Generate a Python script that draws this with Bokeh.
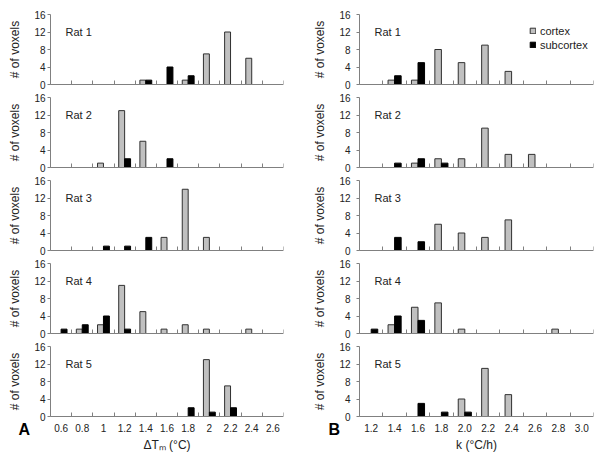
import numpy as np
from bokeh.plotting import figure
from bokeh.models import FixedTicker, Label, Range1d
from bokeh.layouts import row, column
from bokeh.embed import file_html
from bokeh.resources import INLINE

rats = ["Rat 1", "Rat 2", "Rat 3", "Rat 4", "Rat 5"]
dtm_bins = ["0.6", "0.8", "1", "1.2", "1.4", "1.6", "1.8", "2", "2.2", "2.4", "2.6"]
k_bins = ["1.2", "1.4", "1.6", "1.8", "2.0", "2.2", "2.4", "2.6", "2.8", "3.0"]
y_ticks = [0, 4, 8, 12, 16]

dtm_cortex = [
    [0, 0, 0, 0, 1, 0, 1, 7, 12, 6, 0],
    [0, 0, 1, 13, 6, 0, 0, 0, 0, 0, 0],
    [0, 0, 0, 0, 0, 3, 14, 3, 0, 0, 0],
    [0, 1, 2, 11, 5, 1, 2, 1, 0, 1, 0],
    [0, 0, 0, 0, 0, 0, 0, 13, 7, 0, 0],
]
dtm_subcortex = [
    [0, 0, 0, 0, 1, 4, 2, 0, 0, 0, 0],
    [0, 0, 0, 2, 0, 2, 0, 0, 0, 0, 0],
    [0, 0, 1, 1, 3, 0, 0, 0, 0, 0, 0],
    [1, 2, 4, 1, 0, 0, 0, 0, 0, 0, 0],
    [0, 0, 0, 0, 0, 0, 2, 1, 2, 0, 0],
]
k_cortex = [
    [0, 1, 1, 8, 5, 9, 3, 0, 0, 0],
    [0, 0, 1, 2, 2, 9, 3, 3, 0, 0],
    [0, 0, 0, 6, 4, 3, 7, 0, 0, 0],
    [0, 2, 6, 7, 1, 0, 0, 0, 1, 0],
    [0, 0, 0, 0, 4, 11, 5, 0, 0, 0],
]
k_subcortex = [
    [0, 2, 5, 0, 0, 0, 0, 0, 0, 0],
    [0, 1, 2, 1, 0, 0, 0, 0, 0, 0],
    [0, 3, 2, 0, 0, 0, 0, 0, 0, 0],
    [1, 4, 3, 0, 0, 0, 0, 0, 0, 0],
    [0, 0, 3, 1, 1, 0, 0, 0, 0, 0],
]

FONT = "Liberation Sans"
TXT = "#222222"
AX = "#808080"
GREY = "#c0c0c0"
BAR_W = 0.28
Y_MAX = 16
FRAME_H = 70


def panel(bins, cortex, sub, rat, idx, right, letter=None, xtitle=None, legend=False):
    n = len(bins)
    bottom = idx == 4
    top = idx == 0
    if right:
        w, bl, br = 302, 59, 9
    else:
        w, bl, br = 300, 50, 17
    bt = 14 if top else 6
    bb = 40 if bottom else 7
    h = bt + FRAME_H + bb
    # The plotting frame covers the left, top and bottom margins so that the
    # tick labels and panel letters are never clipped; the axes are pinned at
    # x=0 / y=0 and bounded to the data area.
    px_x = (w - bl - br) / n
    px_y = FRAME_H / Y_MAX
    xr = Range1d(-bl / px_x, n)
    yr = Range1d(-bb / px_y, Y_MAX + bt / px_y)
    p = figure(width=w, height=h, output_backend="svg", toolbar_location=None,
               x_range=xr, y_range=yr,
               min_border_left=0, min_border_right=br, min_border_top=0,
               min_border_bottom=0)
    p.outline_line_color = None
    p.grid.visible = False
    p.background_fill_color = "white"
    p.border_fill_color = "white"

    centers = [i + 0.5 for i in range(n)]
    xc = [c - BAR_W / 2 for c, v in zip(centers, cortex) if v > 0]
    yc = [v for v in cortex if v > 0]
    xs = [c + BAR_W / 2 for c, v in zip(centers, sub) if v > 0]
    ys = [v for v in sub if v > 0]
    kw_c = dict(legend_label="cortex") if legend else {}
    kw_s = dict(legend_label="subcortex") if legend else {}
    p.vbar(x=xc, top=yc, bottom=0, width=BAR_W, fill_color=GREY,
           line_color="#303030", line_width=1, **kw_c)
    p.vbar(x=xs, top=ys, bottom=0, width=BAR_W, fill_color="black",
           line_color="black", line_width=1, **kw_s)

    ya = p.yaxis[0]
    ya.fixed_location = 0
    ya.bounds = (0, Y_MAX)
    ya.ticker = FixedTicker(ticks=y_ticks, minor_ticks=[])
    ya.axis_line_color = AX
    ya.major_tick_line_color = AX
    ya.major_tick_out = 3
    ya.major_tick_in = 0
    ya.major_label_standoff = 6 if right else 2
    ya.major_label_text_font = FONT
    ya.major_label_text_font_size = "10px"
    ya.major_label_text_color = TXT
    ya.axis_label = "# of voxels"
    ya.axis_label_text_font = FONT
    ya.axis_label_text_font_size = "12px"
    ya.axis_label_text_font_style = "normal"
    ya.axis_label_text_color = TXT
    ya.axis_label_standoff = 9

    xa = p.xaxis[0]
    xa.fixed_location = 0
    xa.bounds = (0, n)
    xa.ticker = FixedTicker(ticks=centers if bottom else [], minor_ticks=list(range(n + 1)))
    xa.axis_line_color = AX
    xa.major_tick_in = 0
    xa.major_tick_out = 0
    xa.minor_tick_in = 4
    xa.minor_tick_out = 0
    xa.minor_tick_line_color = AX
    xa.major_label_text_font = FONT
    xa.major_label_text_font_size = "10px"
    xa.major_label_text_color = TXT
    xa.major_label_standoff = 7
    if bottom:
        xa.major_label_overrides = {c: b for c, b in zip(centers, bins)}
        xa.axis_label = xtitle
        xa.axis_label_text_font = FONT
        xa.axis_label_text_font_size = "12px"
        xa.axis_label_text_font_style = "normal"
        xa.axis_label_text_color = TXT
        xa.axis_label_standoff = 3

    p.add_layout(Label(x=0, y=12.1, x_offset=15, text=rat, text_font=FONT,
                       text_font_size="11px", text_color=TXT, text_baseline="middle"))
    if letter:
        p.add_layout(Label(x=0, y=0, x_offset=-32 if letter == "A" else -31, y_offset=-13,
                           text=letter, text_font=FONT, text_font_size="16px",
                           text_font_style="bold", text_color="black",
                           text_baseline="middle"))
    if legend:
        lg = p.legend[0]
        lg.location = (bl + 170, bb + 33)
        lg.border_line_color = None
        lg.background_fill_alpha = 0
        lg.padding = 0
        lg.margin = 0
        lg.spacing = 1
        lg.glyph_width = 7
        lg.glyph_height = 7
        lg.label_height = 13
        lg.label_standoff = 4
        lg.label_text_font = FONT
        lg.label_text_font_size = "11px"
        lg.label_text_color = TXT
    return p


left = []
rightc = []
for i, rat in enumerate(rats):
    last = i == len(rats) - 1
    left.append(panel(dtm_bins, dtm_cortex[i], dtm_subcortex[i], rat, i, False,
                      letter="A" if last else None, xtitle="ΔTₘ (°C)"))
    rightc.append(panel(k_bins, k_cortex[i], k_subcortex[i], rat, i, True,
                        letter="B" if last else None, xtitle="k (°C/h)", legend=(i == 0)))

layout = row(column(*left, spacing=0), column(*rightc, spacing=0), spacing=0)
open("out.html", "w").write(file_html(layout, INLINE))
